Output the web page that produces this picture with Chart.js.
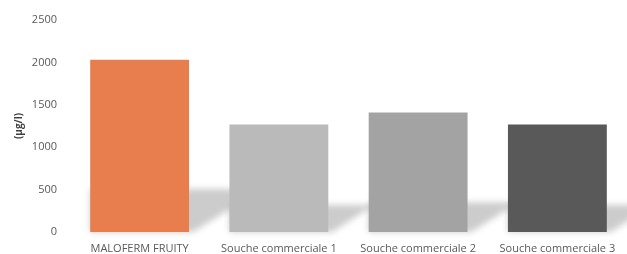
<!DOCTYPE html>
<html>
<head>
<meta charset="utf-8">
<script src="https://cdn.jsdelivr.net/npm/chart.js@4"></script>
<style>
  html, body { margin: 0; padding: 0; background: #fff; }
  #wrap { width: 627px; height: 254px; position: relative; }
</style>
</head>
<body>
<div id="wrap"><canvas id="chart"></canvas></div>
<script>
const categories = ["MALOFERM FRUITY", "Souche commerciale 1", "Souche commerciale 2", "Souche commerciale 3"];
const values = [2030, 1268, 1408, 1268];
const barColors = ["#e87e4e", "#bababa", "#a3a3a3", "#595959"];
const yTicks = [0, 500, 1000, 1500, 2000, 2500];

// soft floor shadow behind each bar, like the office chart
const floorShadow = {
  id: "floorShadow",
  beforeDatasetsDraw(chart) {
    const ctx = chart.ctx;
    const meta = chart.getDatasetMeta(0);
    ctx.save();
    ctx.filter = "blur(3px)";
    meta.data.forEach((bar) => {
      const x0 = bar.x - bar.width / 2;
      const x1 = bar.x + bar.width / 2;
      const bottom = bar.base;
      const s = (bottom - bar.y) * 0.25;
      const dx = s * 1.7;
      ctx.fillStyle = "rgba(0,0,0,0.2)";
      ctx.beginPath();
      ctx.moveTo(x0, bottom);
      ctx.lineTo(x1 + 4, bottom);
      ctx.lineTo(x1 + dx, bottom - s);
      ctx.lineTo(x0, bottom - s);
      ctx.closePath();
      ctx.fill();
    });
    ctx.restore();
  }
};

new Chart(document.getElementById("chart"), {
  type: "bar",
  data: {
    labels: categories,
    datasets: [
      {
        data: values,
        backgroundColor: barColors,
        barPercentage: 0.71,
        categoryPercentage: 1
      }
    ]
  },
  options: {
    responsive: true,
    maintainAspectRatio: false,
    animation: false,
    layout: { padding: { top: 20, right: 0, left: 0, bottom: 0 } },
    plugins: {
      legend: { display: false },
      tooltip: { enabled: false }
    },
    scales: {
      x: {
        afterFit: (scale) => {
          scale.height = 22;
        },
        grid: { display: false },
        border: { display: false },
        ticks: {
          color: "#595959",
          padding: 2,
          maxRotation: 0,
          autoSkip: false,
          font: { family: "Open Sans", size: 11 }
        }
      },
      y: {
        min: 0,
        max: 2500,
        afterBuildTicks: (scale) => {
          scale.ticks = yTicks.map((v) => ({ value: v }));
        },
        afterFit: (scale) => {
          scale.width = 70;
        },
        grid: { display: false },
        border: { display: false },
        ticks: {
          color: "#595959",
          padding: 5,
          callback: (v) => String(v),
          font: { family: "Open Sans", size: 11 }
        },
        title: {
          display: true,
          text: "(µg/l)",
          color: "#404040",
          padding: { top: 13, bottom: 0 },
          font: { family: "Open Sans", size: 10, weight: "bold" }
        }
      }
    }
  },
  plugins: [floorShadow]
});
</script>
</body>
</html>
